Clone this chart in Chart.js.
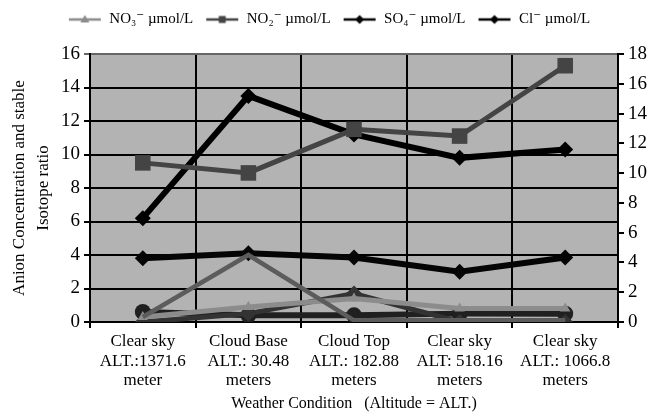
<!DOCTYPE html>
<html>
<head>
<meta charset="utf-8">
<script src="https://cdn.jsdelivr.net/npm/chart.js@4/dist/chart.umd.min.js"></script>
<style>
  html, body { margin: 0; padding: 0; background: #fff; }
  #wrap { width: 658px; height: 417px; }
</style>
</head>
<body>
<div id="wrap"><canvas id="chart" width="658" height="417"></canvas></div>
<script>
// ---- data ----
const categories = [
  ['Clear sky', 'ALT.:1371.6', 'meter'],
  ['Cloud Base', 'ALT.: 30.48', 'meters'],
  ['Cloud Top', 'ALT.: 182.88', 'meters'],
  ['Clear sky', 'ALT: 518.16', 'meters'],
  ['Clear sky', 'ALT.: 1066.8', 'meters']
];
const no3 = [0.3, 0.9, 1.4, 0.8, 0.8];
const no2 = [9.5, 8.9, 11.5, 11.1, 15.3];
const so4 = [3.8, 4.1, 3.85, 3.0, 3.85];
const cl = [6.2, 13.5, 11.2, 9.8, 10.3];
// unlabelled series visible near the bottom of the plot
const extraA = [0.3, 4.0, 0.1, 0.1, 0.1];
const extraB = [0, 0.5, 1.7, 0, 0];
const extraC = [0.6, 0.4, 0.4, 0.5, 0.5];
const leftTicks = [0, 2, 4, 6, 8, 10, 12, 14, 16];
const rightTicks = [0, 2, 4, 6, 8, 10, 12, 14, 16, 18];

const FONT = "'Liberation Serif', 'DejaVu Serif', serif";

// legend swatch: short line with a marker in the middle
function swatch(color, style) {
  const c = document.createElement('canvas');
  c.width = 34; c.height = 12;
  const g = c.getContext('2d');
  g.strokeStyle = color; g.fillStyle = color; g.lineWidth = 2.5;
  g.beginPath(); g.moveTo(1, 6); g.lineTo(33, 6); g.stroke();
  g.beginPath();
  if (style === 'tri') { g.moveTo(17, 1.5); g.lineTo(21.5, 9); g.lineTo(12.5, 9); }
  else if (style === 'rect') { g.rect(13.5, 2.5, 7, 7); }
  else { g.moveTo(17, 1.5); g.lineTo(21.5, 6); g.lineTo(17, 10.5); g.lineTo(12.5, 6); }
  g.fill();
  return c;
}

const plotBg = {
  id: 'plotBg',
  beforeDraw(chart) {
    const { ctx, chartArea: a } = chart;
    ctx.save();
    ctx.fillStyle = '#b3b3b3';
    ctx.fillRect(a.left, a.top, a.right - a.left, a.bottom - a.top);
    ctx.restore();
  }
};

const ds = (label, data, color, width, style, radius, legend) => ({
  label, data, borderColor: color, backgroundColor: color, borderWidth: width,
  pointStyle: style, pointRadius: radius, pointHoverRadius: radius,
  pointBorderWidth: 0, yAxisID: 'y', tension: 0, _legend: legend
});

const chart = new Chart(document.getElementById('chart'), {
  type: 'line',
  data: {
    labels: categories,
    datasets: [
      ds('extraA', extraA, '#5c5c5c', 4.5, false, 0, null),
      ds('NO\u2083\u207B \u00B5mol/L', no3, '#8c8c8c', 5, 'triangle', 6, 'tri'),
      ds('extraB', extraB, '#333333', 5, 'rectRot', 8, null),
      ds('NO\u2082\u207B \u00B5mol/L', no2, '#444444', 5, 'rect', 11, 'rect'),
      ds('extraC', extraC, '#202020', 6, 'circle', 8, null),
      ds('SO\u2084\u207B \u00B5mol/L', so4, '#050505', 6, 'rectRot', 8, 'dia'),
      ds('Cl\u207B \u00B5mol/L', cl, '#000000', 6, 'rectRot', 8, 'dia')
    ]
  },
  options: {
    responsive: false,
    animation: false,
    layout: { padding: { top: 0, left: 0, right: 0, bottom: 0 } },
    plugins: {
      legend: {
        position: 'top',
        labels: {
          font: { family: FONT, size: 15 },
          color: '#000',
          usePointStyle: true,
          pointStyleWidth: 34,
          boxHeight: 12,
          padding: 12,
          generateLabels(chart) {
            const order = [1, 3, 5, 6];
            return order.map(i => {
              const d = chart.data.datasets[i];
              return {
                text: d.label, datasetIndex: i, fontColor: '#000',
                pointStyle: swatch(d.borderColor, d._legend),
                strokeStyle: d.borderColor, fillStyle: d.borderColor, lineWidth: 0
              };
            });
          }
        }
      },
      tooltip: { enabled: false }
    },
    scales: {
      x: {
        offset: true,
        afterFit: s => { s.height = 95; },
        grid: { offset: true, color: '#000', lineWidth: 2, drawTicks: true, tickLength: 6 },
        border: { color: '#000', width: 2 },
        ticks: { font: { family: FONT, size: 17, lineHeight: 1.15 }, color: '#000', maxRotation: 0, padding: 4 },
        title: { display: true, text: 'Weather Condition   (Altitude = ALT.)', font: { family: FONT, size: 16 }, color: '#000', padding: { top: 2 } }
      },
      y: {
        position: 'left',
        min: 0, max: 16,
        afterBuildTicks: s => { s.ticks = leftTicks.map(v => ({ value: v })); },
        afterFit: s => { s.width = 90; },
        grid: { color: c => (c.tick && c.tick.value === 16 ? '#666' : '#000'), lineWidth: 2, tickLength: 6 },
        border: { color: '#000', width: 2 },
        ticks: { font: { family: FONT, size: 19 }, color: '#000', padding: 4 },
        title: { display: true, text: ['Anion Concentration and stable', 'Isotope ratio'], font: { family: FONT, size: 17, lineHeight: 1.4 }, color: '#000', padding: { top: 8, bottom: 0 } }
      },
      y2: {
        position: 'right',
        min: 0, max: 18,
        afterBuildTicks: s => { s.ticks = rightTicks.map(v => ({ value: v })); },
        afterFit: s => { s.width = 40; },
        grid: { drawOnChartArea: false, color: '#000', lineWidth: 2, tickLength: 6 },
        border: { color: '#000', width: 2 },
        ticks: { font: { family: FONT, size: 19 }, color: '#000', padding: 4 }
      }
    }
  },
  plugins: [plotBg]
});

// leave more room between the legend and the plot, as in the reference
const legendFit = chart.legend.fit.bind(chart.legend);
chart.legend.fit = function () { legendFit(); this.height += 17; };
chart.update();
</script>
</body>
</html>
